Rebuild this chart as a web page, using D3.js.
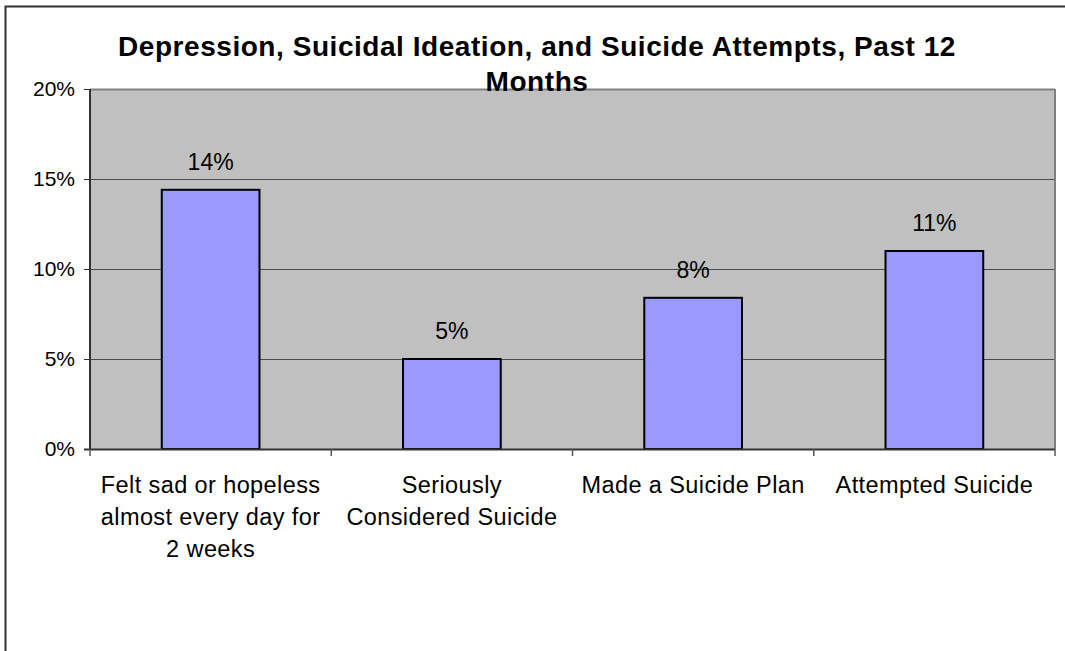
<!DOCTYPE html>
<html>
<head>
<meta charset="utf-8">
<script src="https://cdn.jsdelivr.net/npm/d3@7"></script>
<style>
html,body{margin:0;padding:0;background:#fff;}
svg{display:block;font-family:"Liberation Sans",Arial,sans-serif;}
</style>
</head>
<body>
<svg id="chart" width="1065" height="651"></svg>
<script>
const categories = [
  ["Felt sad or hopeless", "almost every day for", "2 weeks"],
  ["Seriously", "Considered Suicide"],
  ["Made a Suicide Plan"],
  ["Attempted Suicide"]
];
const values = [14.4, 5.0, 8.4, 11.0];
const valueLabels = ["14%", "5%", "8%", "11%"];
const yTicks = [0, 5, 10, 15, 20];
const yTickLabels = ["0%", "5%", "10%", "15%", "20%"];
const titleLines = ["Depression, Suicidal Ideation, and Suicide Attempts, Past 12", "Months"];

const svg = d3.select("#chart");
const W = 1065, H = 651;
const plot = {left: 90, right: 1055, top: 89, bottom: 449};

// outer border
svg.append("rect").attr("x", 5.5).attr("y", 6.5).attr("width", W + 10).attr("height", H + 10)
  .attr("fill", "#fff").attr("stroke", "#333").attr("stroke-width", 2);

const x = d3.scaleBand().domain(d3.range(categories.length)).range([plot.left, plot.right]).padding(0);
const y = d3.scaleLinear().domain([0, 20]).range([plot.bottom, plot.top]);

// plot background
svg.append("rect").attr("x", plot.left).attr("y", plot.top)
  .attr("width", plot.right - plot.left).attr("height", plot.bottom - plot.top)
  .attr("fill", "#c0c0c0");

// gridlines
svg.append("g").selectAll("line").data(yTicks.filter(d => d > 0 && d < 20)).join("line")
  .attr("x1", plot.left).attr("x2", plot.right)
  .attr("y1", d => y(d) + 0.5).attr("y2", d => y(d) + 0.5)
  .attr("stroke", "#4a4a4a").attr("stroke-width", 1);

// plot border (top/right gray)
svg.append("line").attr("x1", plot.left).attr("x2", plot.right).attr("y1", plot.top + 0.5).attr("y2", plot.top + 0.5)
  .attr("stroke", "#808080").attr("stroke-width", 2);
svg.append("line").attr("x1", plot.right).attr("x2", plot.right).attr("y1", plot.top).attr("y2", plot.bottom)
  .attr("stroke", "#808080").attr("stroke-width", 2);

// bars
const barFrac = 0.405;
svg.append("g").selectAll("rect").data(values).join("rect")
  .attr("x", (d, i) => x(i) + x.bandwidth() * (1 - barFrac) / 2)
  .attr("y", d => y(d))
  .attr("width", x.bandwidth() * barFrac)
  .attr("height", d => y(0) - y(d))
  .attr("fill", "#9999ff").attr("stroke", "#000").attr("stroke-width", 2);

// value labels
svg.append("g").selectAll("text").data(values).join("text")
  .attr("x", (d, i) => x(i) + x.bandwidth() / 2)
  .attr("y", d => y(d) - 20)
  .attr("text-anchor", "middle").attr("font-size", 23).attr("fill", "#000")
  .text((d, i) => valueLabels[i]);

// y axis
const yAxis = d3.axisLeft(y).tickValues(yTicks).tickFormat((d, i) => yTickLabels[i]).tickSize(6).tickPadding(9);
const gy = svg.append("g").attr("transform", `translate(${plot.left},0)`).call(yAxis);
gy.select(".domain").attr("stroke", "#333").attr("stroke-width", 2).attr("d", `M0,${plot.top}V${plot.bottom}`);
gy.selectAll(".tick line").attr("stroke", "#333");
gy.selectAll(".tick text").attr("font-size", 21).attr("fill", "#000").attr("font-family", "Liberation Sans, Arial, sans-serif");

// x axis
const gx = svg.append("g").attr("transform", `translate(0,${plot.bottom})`);
gx.append("line").attr("x1", plot.left - 6).attr("x2", plot.right).attr("y1", 0.5).attr("y2", 0.5)
  .attr("stroke", "#333").attr("stroke-width", 2);
const bounds = d3.range(categories.length + 1).map(i => i < categories.length ? x(i) : x(i - 1) + x.bandwidth());
gx.selectAll("line.tk").data(bounds).join("line").attr("class", "tk")
  .attr("x1", d => d).attr("x2", d => d).attr("y1", 0).attr("y2", 7)
  .attr("stroke", "#555").attr("stroke-width", 1.5);

// category labels
const cl = svg.append("g").selectAll("text").data(categories).join("text")
  .attr("text-anchor", "middle").attr("font-size", 23.5).attr("letter-spacing", 0.4).attr("fill", "#000");
cl.each(function(lines, i) {
  d3.select(this).selectAll("tspan").data(lines).join("tspan")
    .attr("x", x(i) + x.bandwidth() / 2)
    .attr("y", (d, j) => 493 + j * 32)
    .text(d => d);
});

// title
svg.append("g").selectAll("text").data(titleLines).join("text")
  .attr("x", 537).attr("y", (d, i) => 56 + i * 35)
  .attr("text-anchor", "middle").attr("font-size", 28).attr("letter-spacing", 0.55)
  .attr("font-weight", "bold").attr("fill", "#000")
  .text(d => d);
</script>
</body>
</html>
